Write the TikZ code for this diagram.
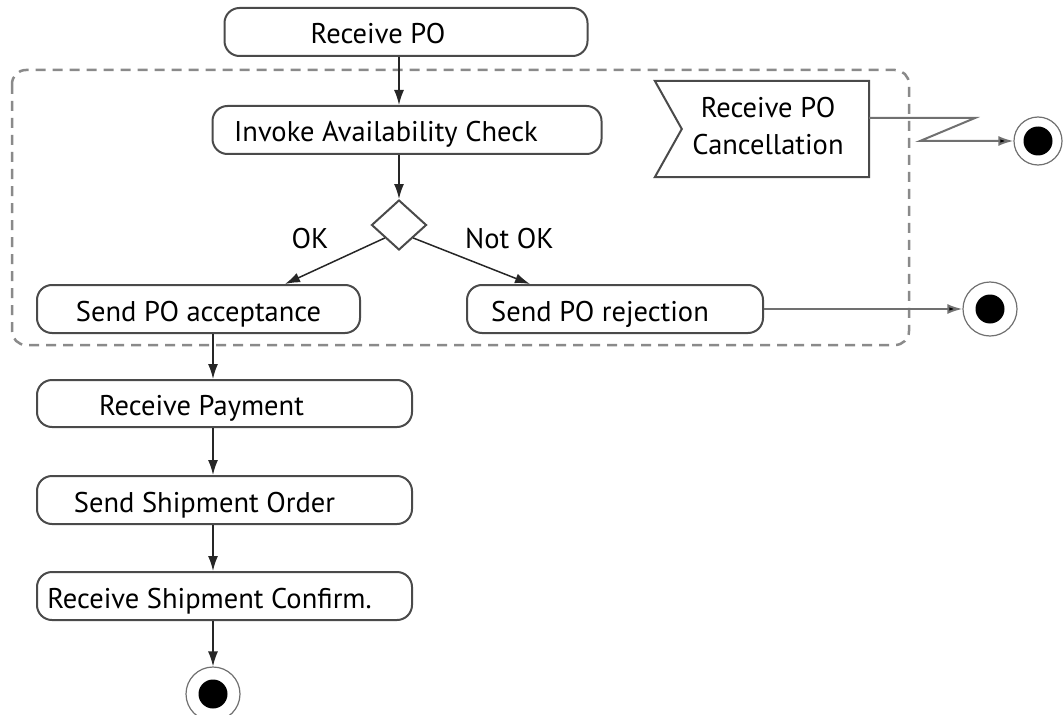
\documentclass[tikz,border=0pt]{standalone}
\usepackage{fontspec}
\setmainfont{PT Sans}
\usetikzlibrary{arrows.meta,shapes.geometric,calc}
\definecolor{boxgray}{HTML}{4A4A4A}
\definecolor{linegray}{HTML}{707070}
\definecolor{dashgray}{HTML}{8A8A8A}
\begin{document}
\begin{tikzpicture}[x=1pt,y=-1pt,
  font=\fontsize{28.5}{37}\selectfont,
  action/.style={draw=boxgray, fill=white, line width=2pt, rounded corners=15pt,
    minimum height=48pt, inner sep=0pt},
  txt/.style={text height=19pt, text depth=0pt, inner sep=0pt, yshift=-2.5pt},
  flow/.style={draw=black!85, line width=1.5pt, -{Latex[length=15pt,width=10pt]}},
  graylink/.style={draw=linegray, line width=2pt, -{Latex[length=15pt,width=10pt,fill=black]}},
  endnode/.style={circle, draw=linegray, line width=1.2pt, minimum size=#1, inner sep=0pt,
    path picture={\fill[black] (path picture bounding box.center) circle (14.5pt);}},
  decision/.style={diamond, draw=boxgray, fill=white, line width=2pt, inner sep=0pt,
    minimum width=55pt, minimum height=50pt},
  guard/.style={inner sep=0pt, text height=19pt, text depth=0pt}
]
\useasboundingbox (0,0) rectangle (1064,714);

% interruptible region
\draw[dashgray, line width=2.5pt, dash pattern=on 10pt off 7pt, rounded corners=14pt]
  (12,70) rectangle (909,345);

% actions
\node[action, minimum width=363pt, label={[txt, xshift=-28pt]center:Receive PO}] (rpo) at (406,32) {};
\node[action, minimum width=389pt, label={[txt, xshift=-21pt]center:Invoke Availability Check}] (inv) at (407,130) {};
\node[decision] (dec) at (399,225) {};
\node[action, minimum width=323pt, label={[txt]center:Send PO acceptance}] (acc) at (198.5,309) {};
\node[action, minimum width=296pt, label={[txt, xshift=-15pt]center:Send PO rejection}] (rej) at (615,309) {};
\node[action, minimum width=375pt, minimum height=47pt, label={[txt, xshift=-23pt]center:Receive Payment}] (pay) at (224.5,403.5) {};
\node[action, minimum width=375pt, label={[txt, xshift=-20pt]center:Send Shipment Order}] (ship) at (224.5,500) {};
\node[action, minimum width=375pt, label={[txt, xshift=-15pt]center:Receive Shipment Confirm.}] (conf) at (224.5,596) {};

% accept event signal
\node[minimum width=214pt, minimum height=96pt, inner sep=0pt,
  label={[align=center, inner sep=0pt, xshift=6pt, yshift=3pt]center:Receive PO\\Cancellation}] (cancel) at (762,129) {};
\draw[boxgray, line width=2pt] (cancel.north west) -- (cancel.north east) -- (cancel.south east)
  -- (cancel.south west) -- ($(cancel.west)+(27,0)$) -- cycle;

% final nodes
\node[endnode=48pt] (endc) at (1038,141) {};
\node[endnode=54pt] (endr) at (990,309) {};
\node[endnode=54pt] (endb) at (213,694) {};

% control flow
\coordinate (col) at (213,0);
\draw[flow] (rpo.south -| dec) -- (inv.north -| dec);
\draw[flow] (inv.south -| dec) -- (dec.north);
\draw[flow] (dec.south west) -- ($(acc.north)+(86.5,0)$);
\draw[flow] (dec.south east) -- ($(rej.north)+(-85,0)$);
\node[guard] (ok) at (310,239) {OK};
\node[guard] (nok) at (509.5,239) {Not OK};
\draw[flow] (acc.south -| col) -- (pay.north -| col);
\draw[flow] (pay.south -| col) -- (ship.north -| col);
\draw[flow] (ship.south -| col) -- (conf.north -| col);
\draw[flow] (conf.south -| col) -- (endb);
\draw[graylink] (rej.east) -- (endr);

% interrupting edge
\coordinate (zA) at (975,118);
\coordinate (zB) at (920,141);
\draw[graylink] ($(cancel.east)+(0,-11)$) -- (zA) -- (zB) -- (endc);
\end{tikzpicture}
\end{document}
